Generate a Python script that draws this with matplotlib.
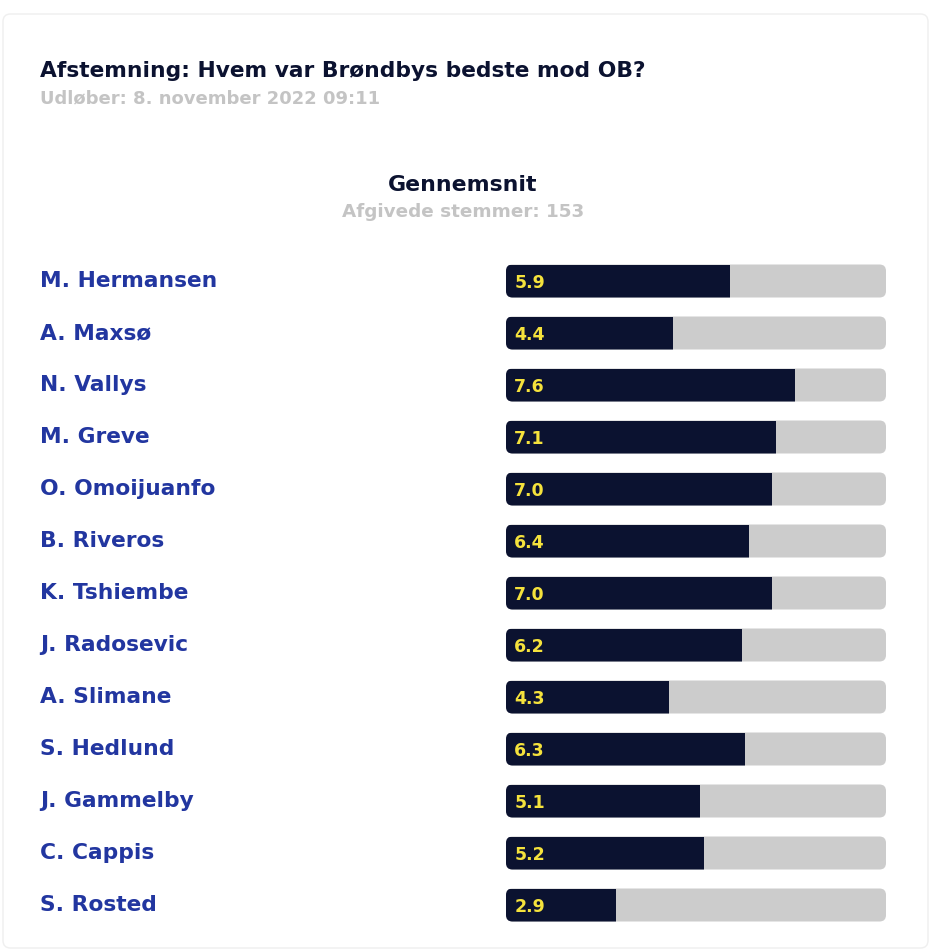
import matplotlib.pyplot as plt
from matplotlib.patches import FancyBboxPatch
from matplotlib.transforms import blended_transform_factory

players = ['M. Hermansen', 'A. Maxsø', 'N. Vallys', 'M. Greve', 'O. Omoijuanfo',
           'B. Riveros', 'K. Tshiembe', 'J. Radosevic', 'A. Slimane', 'S. Hedlund',
           'J. Gammelby', 'C. Cappis', 'S. Rosted']
scores = [5.9, 4.4, 7.6, 7.1, 7.0, 6.4, 7.0, 6.2, 4.3, 6.3, 5.1, 5.2, 2.9]
max_score = 10

title = 'Afstemning: Hvem var Brøndbys bedste mod OB?'
subtitle = 'Udløber: 8. november 2022 09:11'
head = 'Gennemsnit'
votes = 'Afgivede stemmer: 153'

navy = '#0b1230'
track = '#cccccc'
yellow = '#f5e23c'
blue = '#2236a0'
grey_txt = '#c4c4c4'

plt.rcParams['font.family'] = ['DejaVu Sans']

W, H = 931, 950
fig = plt.figure(figsize=(W / 100, H / 100), dpi=100)
fig.patch.set_facecolor('white')

# card outline
card = FancyBboxPatch((3 / W, 2 / H), 925 / W, 934 / H, boxstyle='round,pad=0,rounding_size=0.008',
                      transform=fig.transFigure, facecolor='none', edgecolor='#efefef', lw=1, zorder=-5)
fig.patches.append(card)

fig.text(40 / W, 1 - 71 / H, title, fontsize=15.7, fontweight='bold', color=navy, va='center')
fig.text(40 / W, 1 - 98 / H, subtitle, fontsize=13, fontweight='bold', color=grey_txt, va='center')
fig.text(463 / W, 1 - 185 / H, head, fontsize=15.8, fontweight='bold', color=navy, va='center', ha='center')
fig.text(463 / W, 1 - 212 / H, votes, fontsize=13.2, fontweight='bold', color=grey_txt, va='center', ha='center')

ax = fig.add_axes([506 / W, 1 - 931 / H, 380 / W, 676 / H])
ax.set_xlim(0, max_score)
ax.set_ylim(len(players) - 0.5, -0.5)
ax.axis('off')

bh = 33 / 52
asp = (1 / 52) / (1 / 38)
r = 0.17
ypos = list(range(len(players)))
bars = ax.barh(ypos, scores, height=bh, color=navy, zorder=2)
for i, (b, v) in enumerate(zip(bars, scores)):
    tr = FancyBboxPatch((0, i - bh / 2), max_score, bh,
                        boxstyle=f'round,pad=0,rounding_size={r}',
                        mutation_aspect=asp, facecolor=track, edgecolor='none', zorder=1)
    ax.add_patch(tr)
    b.set_clip_path(tr)
    ax.text(0.22, i + 0.04, f'{v:.1f}', color=yellow, fontsize=12.5, fontweight='bold',
            va='center', ha='left', zorder=3)

trans = blended_transform_factory(fig.transFigure, ax.transData)
for i, name in enumerate(players):
    ax.text(40 / W, i + 0.0, name, transform=trans, fontsize=15.7, fontweight='bold',
            color=blue, va='center', ha='left')

fig.savefig('out.png', dpi=100, facecolor='white')
